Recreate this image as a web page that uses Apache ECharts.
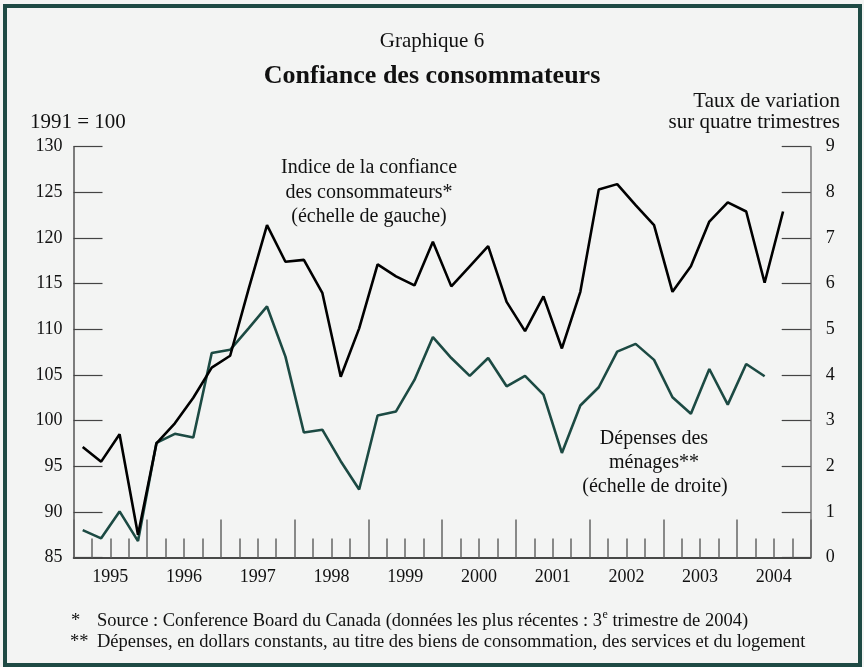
<!DOCTYPE html>
<html><head><meta charset="utf-8">
<script src="https://cdn.jsdelivr.net/npm/echarts@6/dist/echarts.min.js"></script>
<style>html,body{margin:0;padding:0;background:#ffffff}#c{width:864px;height:667px;}</style>
</head><body><div id="c"></div>
<script>
// ---- data ----
const years = ['1995','1996','1997','1998','1999','2000','2001','2002','2003','2004'];
const quarters = [];
years.forEach(y => { for (let q = 1; q <= 4; q++) quarters.push(y + 'T' + q); });
const confidence = [
  97.1, 95.5, 98.5, 87.5, 97.5, 99.7, 102.5, 105.8, 107.1, 114.4,
  121.4, 117.4, 117.6, 114.0, 104.8, 110.1, 117.1, 115.8, 114.8, 119.6,
  114.7, 116.9, 119.1, 113.0, 109.8, 113.6, 107.9, 114.1, 125.3, 125.9,
  123.6, 121.4, 114.1, 116.9, 121.8, 123.9, 122.9, 115.1, 122.9, null
];
const spending = [
  0.60, 0.42, 1.01, 0.36, 2.51, 2.71, 2.63, 4.48, 4.55, 5.02,
  5.50, 4.40, 2.74, 2.80, 2.11, 1.49, 3.11, 3.20, 3.89, 4.83,
  4.37, 3.98, 4.37, 3.75, 3.98, 3.57, 2.29, 3.33, 3.73, 4.51,
  4.68, 4.33, 3.51, 3.15, 4.13, 3.35, 4.24, 3.97, null, null
];
const leftTicks = {min: 85, max: 130, step: 5};
const rightTicks = {min: 0, max: 9, step: 1};

// ---- chart ----
const FONT = '"Liberation Serif", "Times New Roman", serif';
const GREEN = '#1c4a43';
const NOTE_FONT = '18.5px ' + FONT;
const mctx = document.createElement('canvas').getContext('2d');
mctx.font = NOTE_FONT;
const note1a = 'Source : Conference Board du Canada (données les plus récentes : 3';
const note1b = ' trimestre de 2004)';
const w1a = mctx.measureText(note1a).width;
mctx.font = '12px ' + FONT;
const wsup = mctx.measureText('e').width;

const chart = echarts.init(document.getElementById('c'), null, {renderer: 'canvas'});
const txt = (x, y, s, opts) => ({
  type: 'text', x: x, y: y,
  style: Object.assign({text: s, font: '21px ' + FONT, fill: '#111', align: 'center', verticalAlign: 'middle'}, opts || {})
});
const NX = 97;
chart.setOption({
  backgroundColor: '#f3f4f3',
  animation: false,
  grid: {left: 73.5, right: 53.3, top: 146.7, bottom: 109.5},
  xAxis: [
    {type: 'category', data: quarters, boundaryGap: true, position: 'bottom',
     axisLine: {lineStyle: {color: '#111', width: 1.5}},
     axisTick: {show: true, inside: true, length: 19, interval: 0, lineStyle: {color: '#666', width: 1.5}},
     axisLabel: {show: false}, splitLine: {show: false}},
    {type: 'category', data: years, boundaryGap: true, position: 'bottom', offset: 0,
     axisLine: {show: false},
     axisTick: {show: true, inside: true, length: 38, interval: 0, lineStyle: {color: '#666', width: 1.5}},
     axisLabel: {show: true, interval: 0, fontFamily: 'Liberation Serif', fontSize: 18, color: '#111', margin: 11},
     splitLine: {show: false}}
  ],
  yAxis: [
    {type: 'value', position: 'left', min: leftTicks.min, max: leftTicks.max, interval: leftTicks.step,
     axisLine: {show: true, lineStyle: {color: '#555', width: 1.5}},
     axisTick: {show: true, inside: true, length: 29, lineStyle: {color: '#444', width: 1.2}},
     axisLabel: {fontFamily: 'Liberation Serif', fontSize: 18, color: '#111', margin: 11},
     splitLine: {show: false}},
    {type: 'value', position: 'right', min: rightTicks.min, max: rightTicks.max, interval: rightTicks.step,
     axisLine: {show: true, lineStyle: {color: '#777', width: 1.5}},
     axisTick: {show: true, inside: true, length: 29, lineStyle: {color: '#444', width: 1.2}},
     axisLabel: {fontFamily: 'Liberation Serif', fontSize: 18, color: '#111', margin: 15},
     splitLine: {show: false}}
  ],
  series: [
    {name: 'Indice de la confiance des consommateurs', type: 'line', xAxisIndex: 0, yAxisIndex: 0,
     data: confidence, showSymbol: false, symbol: 'none', lineStyle: {color: '#000', width: 2.6}, z: 3},
    {name: 'Dépenses des ménages', type: 'line', xAxisIndex: 0, yAxisIndex: 1,
     data: spending, showSymbol: false, symbol: 'none', lineStyle: {color: GREEN, width: 2.6}, z: 2}
  ],
  graphic: [
    {type: 'rect', shape: {x: 5, y: 6, width: 855, height: 659}, style: {fill: 'none', stroke: '#1e4a44', lineWidth: 4}, z: 10},
    txt(432, 41, 'Graphique 6'),
    txt(432, 76, 'Confiance des consommateurs', {font: 'bold 26px ' + FONT}),
    txt(30, 122, '1991 = 100', {align: 'left'}),
    txt(840, 101, 'Taux de variation', {align: 'right'}),
    txt(840, 122, 'sur quatre trimestres', {align: 'right'}),
    txt(369, 168, 'Indice de la confiance', {font: '20px ' + FONT}),
    txt(369, 193, 'des consommateurs*', {font: '20px ' + FONT}),
    txt(369, 217, '(échelle de gauche)', {font: '20px ' + FONT}),
    txt(654, 439, 'Dépenses des', {font: '20px ' + FONT}),
    txt(654, 463, 'ménages**', {font: '20px ' + FONT}),
    txt(655, 487, '(échelle de droite)', {font: '20px ' + FONT}),
    txt(71, 621, '*', {align: 'left', font: NOTE_FONT}),
    txt(NX, 621, note1a, {align: 'left', font: NOTE_FONT}),
    txt(NX + w1a + 0.5, 615, 'e', {align: 'left', font: '12px ' + FONT}),
    txt(NX + w1a + wsup + 0.5, 621, note1b, {align: 'left', font: NOTE_FONT}),
    txt(70, 642, '**', {align: 'left', font: NOTE_FONT}),
    txt(NX, 642, 'Dépenses, en dollars constants, au titre des biens de consommation, des services et du logement', {align: 'left', font: NOTE_FONT})
  ]
});
</script></body></html>
